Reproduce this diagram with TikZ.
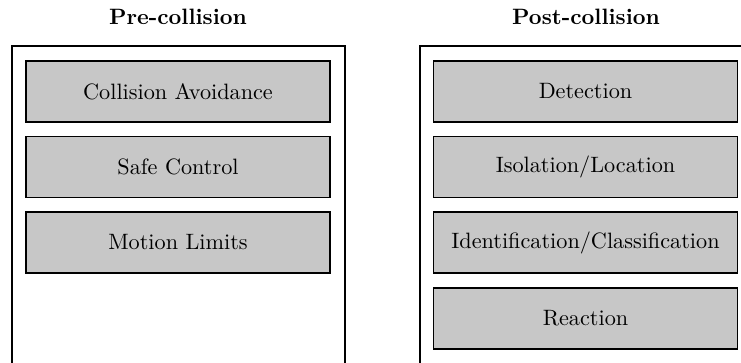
\documentclass[tikz,border=0pt]{standalone}
\begin{document}
\begin{tikzpicture}[x=0.45pt,y=-0.45pt,
  frame/.style={draw,line width=0.8pt,fill=none},
  phase/.style={draw,line width=0.8pt,fill=black!22,minimum width=136.8pt,minimum height=27.4pt,inner sep=0pt,font=\normalsize},
  heading/.style={font=\bfseries,inner sep=0pt}]
\useasboundingbox (0,0) rectangle (741,362);
\clip (0,0) rectangle (741,362);
% column headings
\node[heading] (preT) at (178,17) {Pre-collision};
\node[heading] (postT) at (586,17) {Post-collision};
% outer frames
\draw[frame] (12,380) -- (12,46) -- (345,46) -- (345,380);
\draw[frame] (420,380) -- (420,46) -- (753,46) -- (753,380);
% pre-collision stages
\node[phase] (ca) at (178,91.5) {Collision Avoidance};
\node[phase] (sc) at (178,167) {Safe Control};
\node[phase] (ml) at (178,242.5) {Motion Limits};
% post-collision stages
\node[phase] (det) at (585.5,91.5) {Detection};
\node[phase] (iso) at (585.5,167) {Isolation/Location};
\node[phase] (idc) at (585.5,242.5) {Identification/Classification};
\node[phase] (rea) at (585.5,318.5) {Reaction};
\end{tikzpicture}
\end{document}
